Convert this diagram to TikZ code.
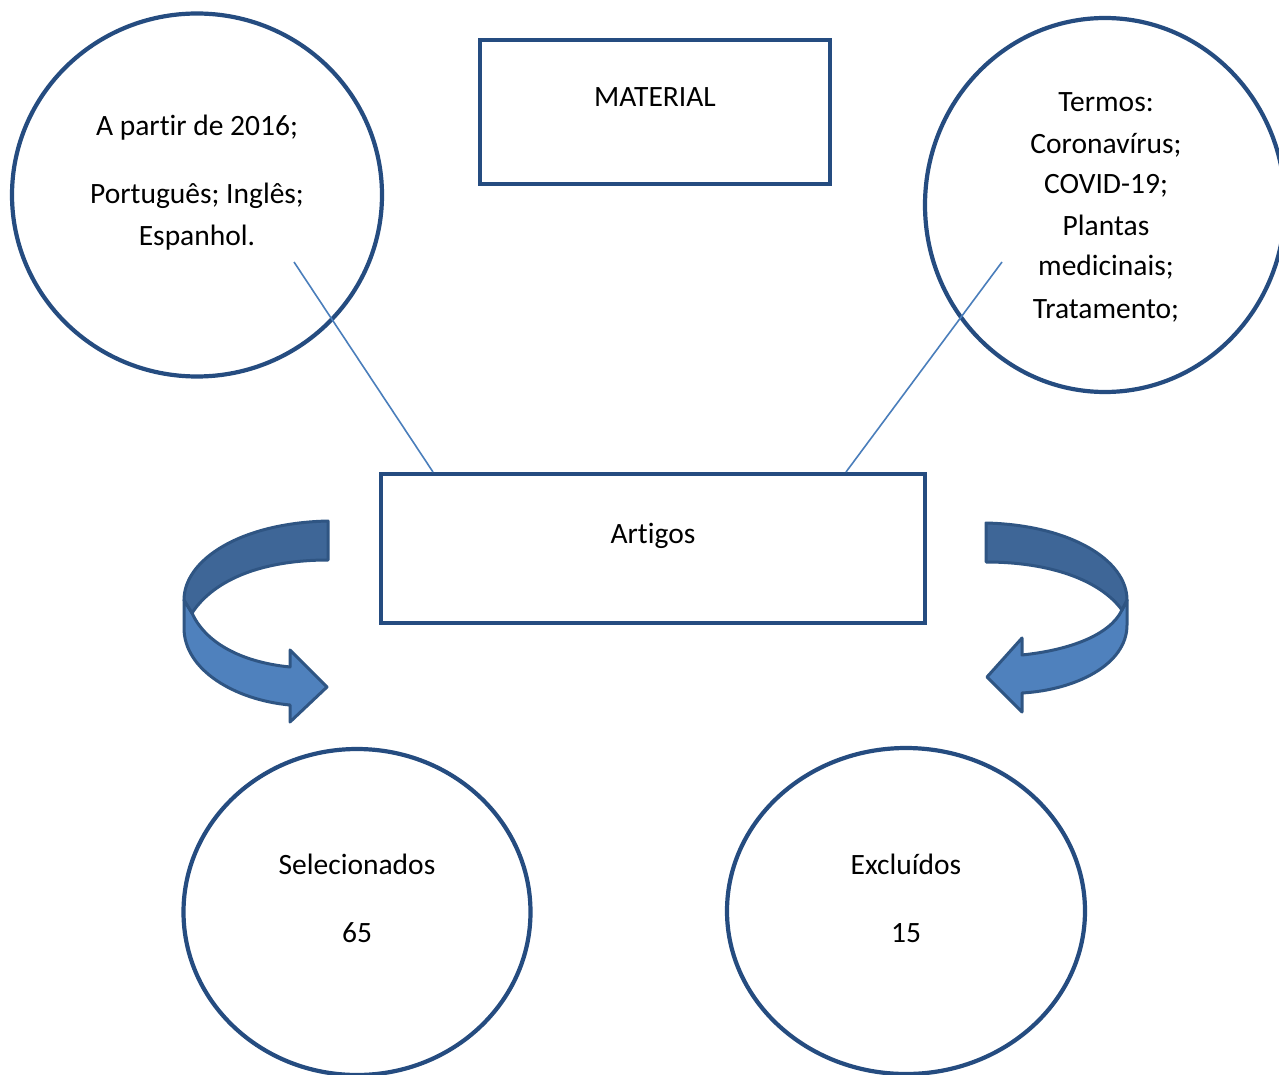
\documentclass[tikz,border=0pt]{standalone}
\usepackage{fontspec}
\setmainfont{Carlito}[Ligatures={NoCommon}]
\usetikzlibrary{shapes.geometric}
\definecolor{outl}{RGB}{37,76,128}
\definecolor{conn}{RGB}{74,126,187}
\definecolor{arrdark}{RGB}{62,102,151}
\definecolor{arrlight}{RGB}{79,129,189}
\definecolor{arrline}{RGB}{47,85,131}
\tikzset{
  circ/.style={draw=outl, line width=4.2pt, ellipse, inner sep=0pt},
  boxnode/.style={draw=outl, line width=4.2pt, rectangle, inner sep=0pt},
  lbl/.style={anchor=base, inner sep=0pt, font=\fontsize{29.5}{36}\selectfont},
  connline/.style={draw=conn, line width=1.6pt},
  bandDark/.style={fill=arrdark, draw=arrline, line width=3pt, line join=round},
  bandLight/.style={fill=arrlight, draw=arrline, line width=3pt, line join=round}
}
\begin{document}
\begin{tikzpicture}[x=1pt,y=-1pt]
\useasboundingbox (0,0) rectangle (1279,1075);
\clip (0,0) rectangle (1279,1075);
\fill[white] (0,0) rectangle (1279,1075);

% shapes
\node[circ, minimum width=370pt, minimum height=363pt] (c1) at (197,195) {};
\node[boxnode, minimum width=350pt, minimum height=144pt] (mat) at (655,112) {};
\node[circ, minimum width=360pt, minimum height=374pt] (c2) at (1105,205) {};
\node[boxnode, minimum width=544pt, minimum height=149pt] (art) at (653,548.5) {};
\node[circ, minimum width=347pt, minimum height=326pt] (c3) at (357,912) {};
\node[circ, minimum width=358pt, minimum height=326pt] (c4) at (906,911) {};

% texts
\node[lbl] (t1) at (197,136) {A partir de 2016;};
\node[lbl] (t2) at (197,204) {Português; Inglês;};
\node[lbl] (t3) at (197,246) {Espanhol.};
\node[lbl] (tm) at (655,107) {MATERIAL};
\node[lbl] (r1) at (1106,112) {Termos:};
\node[lbl] (r2) at (1106,154) {Coronavírus;};
\node[lbl] (r3) at (1106,194) {COVID-19;};
\node[lbl] (r4) at (1106,236) {Plantas};
\node[lbl] (r5) at (1106,276) {medicinais;};
\node[lbl] (r6) at (1106,318) {Tratamento;};
\node[lbl] (ta) at (653,543) {Artigos};
\node[lbl] (s1) at (357,874) {Selecionados};
\node[lbl] (s2) at (357,942) {65};
\node[lbl] (e1) at (906,874) {Excluídos};
\node[lbl] (e2) at (906,942) {15};

% connectors
\coordinate (la) at (294,262);
\coordinate (lb) at (433,472);
\coordinate (ra) at (1002,262);
\coordinate (rb) at (846,472);
\draw[connline] (la) -- (lb);
\draw[connline] (ra) -- (rb);

% left curved arrow
\path[bandLight] (184,600) -- (184,628) .. controls (184,670) and (235,700) .. (290,705)
  -- (290,722) -- (327,687) -- (290,650) -- (290,667)
  .. controls (240,662) and (205,642) .. (192,613) -- cycle;
\path[bandDark] (328,521) .. controls (240,523) and (184,560) .. (184,600)
  -- (192,613) .. controls (215,578) and (265,560) .. (328,560) -- cycle;

% right curved arrow
\path[bandLight] (1127,600) -- (1127,625) .. controls (1127,665) and (1075,690) .. (1022,693)
  -- (1022,712) -- (987,677) -- (1022,638) -- (1022,655)
  .. controls (1070,650) and (1110,635) .. (1122,610) -- cycle;
\path[bandDark] (986,523) .. controls (1070,525) and (1127,560) .. (1127,600)
  -- (1122,610) .. controls (1100,580) and (1050,562) .. (986,562) -- cycle;
\end{tikzpicture}
\end{document}
